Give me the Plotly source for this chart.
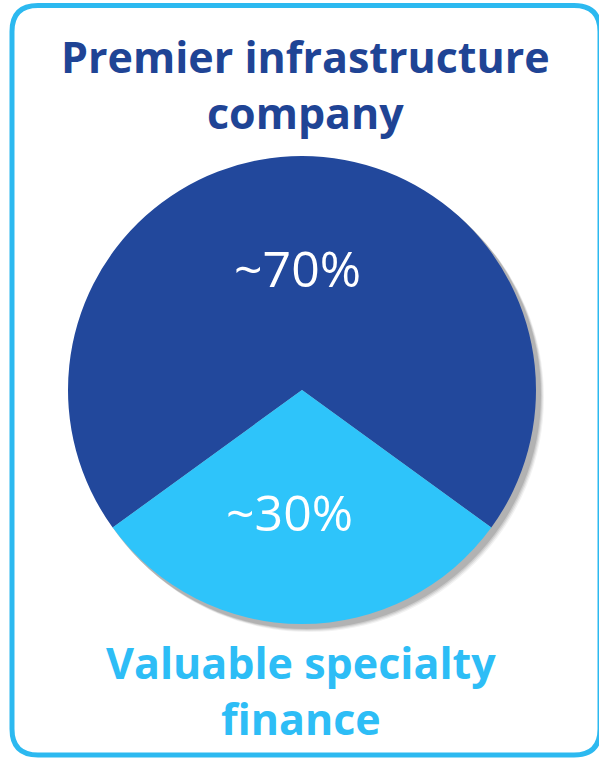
import math
import plotly.graph_objects as go

# ---- data ----
labels = ["Premier infrastructure company", "Valuable specialty finance"]
values = [70, 30]
pct_text = ["~70%", "~30%"]
slice_colors = ["#22489c", "#2ec4fa"]
title_text = "Premier infrastructure<br>company"
footer_text = "Valuable specialty<br>finance"

W, H = 599, 758
FONT = "Open Sans"

def px(x, y):
    return x / W, 1 - y / H

# pie geometry (pixels)
cx, cy, r = 302, 390, 234
rotation = 234
x0, y1 = px(cx - r, cy - r)
x1, y0 = px(cx + r, cy + r)

fig = go.Figure()
fig.add_trace(go.Pie(
    labels=labels, values=values, textinfo="none",
    sort=False, direction="clockwise", rotation=rotation,
    marker=dict(colors=slice_colors, line=dict(width=0)),
    domain=dict(x=[x0, x1], y=[y0, y1]),
    hole=0, showlegend=False, hoverinfo="label+percent",
))

shapes = []
# soft shadow behind pie
for off, op in [(7, 0.05), (6, 0.07), (5, 0.09), (4, 0.12)]:
    a0, b1 = px(cx - r + off - 1, cy - r + off)
    a1, b0 = px(cx + r + off + 1, cy + r + off + 1)
    shapes.append(dict(type="circle", xref="paper", yref="paper", x0=a0, x1=a1, y0=b0, y1=b1,
                       fillcolor=f"rgba(0,0,0,{op})", line=dict(width=0), layer="below"))

# rounded border
L, T, R, B, rad = 12, 5.5, 600, 755, 26
def P(x, y):
    a, b = px(x, y)
    return f"{a:.5f},{b:.5f}"
path = (f"M {P(L+rad, T)} L {P(R-rad, T)} Q {P(R, T)} {P(R, T+rad)} "
        f"L {P(R, B-rad)} Q {P(R, B)} {P(R-rad, B)} "
        f"L {P(L+rad, B)} Q {P(L, B)} {P(L, B-rad)} "
        f"L {P(L, T+rad)} Q {P(L, T)} {P(L+rad, T)} Z")
shapes.append(dict(type="path", xref="paper", yref="paper", path=path,
                   line=dict(color="#2cb9f0", width=5), fillcolor="rgba(0,0,0,0)", layer="above"))

annotations = [
    dict(text=title_text, x=px(305, 0)[0], y=px(0, 84)[1], xref="paper", yref="paper",
         showarrow=False, xanchor="center", yanchor="middle",
         font=dict(family=FONT, size=43, color="#1f4495", weight="bold")),
    dict(text=footer_text, x=px(301, 0)[0], y=px(0, 690)[1], xref="paper", yref="paper",
         showarrow=False, xanchor="center", yanchor="middle",
         font=dict(family=FONT, size=43, color="#2dbdf6", weight="bold")),
]

# percentage labels placed along each slice's mid-angle
total = sum(values)
start = rotation
label_dx = [-4, -13]
for v, t, dx in zip(values, pct_text, label_dx):
    mid = start + 180 * v / total          # degrees clockwise from 12 o'clock
    start += 360 * v / total
    lx = cx + 0.52 * r * math.sin(math.radians(mid)) + dx
    ly = cy - 0.52 * r * math.cos(math.radians(mid))
    annotations.append(dict(text=t, x=px(lx, 0)[0], y=px(0, ly)[1], xref="paper", yref="paper",
                            showarrow=False, xanchor="center", yanchor="middle",
                            font=dict(family=FONT, size=50, color="white")))

fig.update_layout(
    width=W, height=H, margin=dict(l=0, r=0, t=0, b=0),
    paper_bgcolor="white", plot_bgcolor="white",
    shapes=shapes, annotations=annotations,
)
fig.write_html("out.html")
